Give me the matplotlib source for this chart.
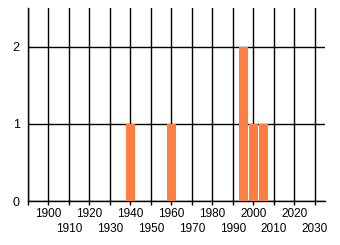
import matplotlib
matplotlib.use("Agg")
import matplotlib.pyplot as plt

# data
years = [1940, 1960, 1995, 2000, 2005]
counts = [1, 1, 2, 1, 1]
even_decades = [1900, 1920, 1940, 1960, 1980, 2000, 2020]
odd_decades = [1890, 1910, 1930, 1950, 1970, 1990, 2010, 2030]
y_ticks = [0, 1, 2]

plt.rcParams["font.family"] = ["Liberation Sans", "DejaVu Sans"]

fig = plt.figure(figsize=(3.4, 2.45), dpi=100)
ax = fig.add_axes([28 / 340, 44 / 245, 297 / 340, 193 / 245])

ax.bar(years, counts, width=4.4, color="#ff7f40", zorder=3)

ax.set_xlim(1890, 2035)
ax.set_ylim(0, 2.5)

# decade labels alternate on two rows: even ones on top, odd ones below
ax.set_xticks(even_decades)
ax.set_xticklabels([str(d) for d in even_decades], fontsize=8.5)
ax.set_xticks(odd_decades, minor=True)
ax.set_xticklabels(["" if d == 1890 else str(d) for d in odd_decades],
                   minor=True, fontsize=8.5)
ax.set_yticks(y_ticks)
ax.set_yticklabels([str(v) for v in y_ticks], fontsize=9)

ax.grid(True, which="both", color="black", linewidth=1, zorder=1)
ax.set_axisbelow(True)
ax.tick_params(axis="x", which="major", length=3, width=1, color="black", pad=2)
ax.tick_params(axis="x", which="minor", length=3, width=1, color="black", pad=13)
ax.tick_params(axis="y", length=0, pad=6)

for side in ["top", "right"]:
    ax.spines[side].set_visible(False)
ax.spines["left"].set_linewidth(1)
ax.spines["bottom"].set_linewidth(1)

fig.savefig("out.png", dpi=100)
